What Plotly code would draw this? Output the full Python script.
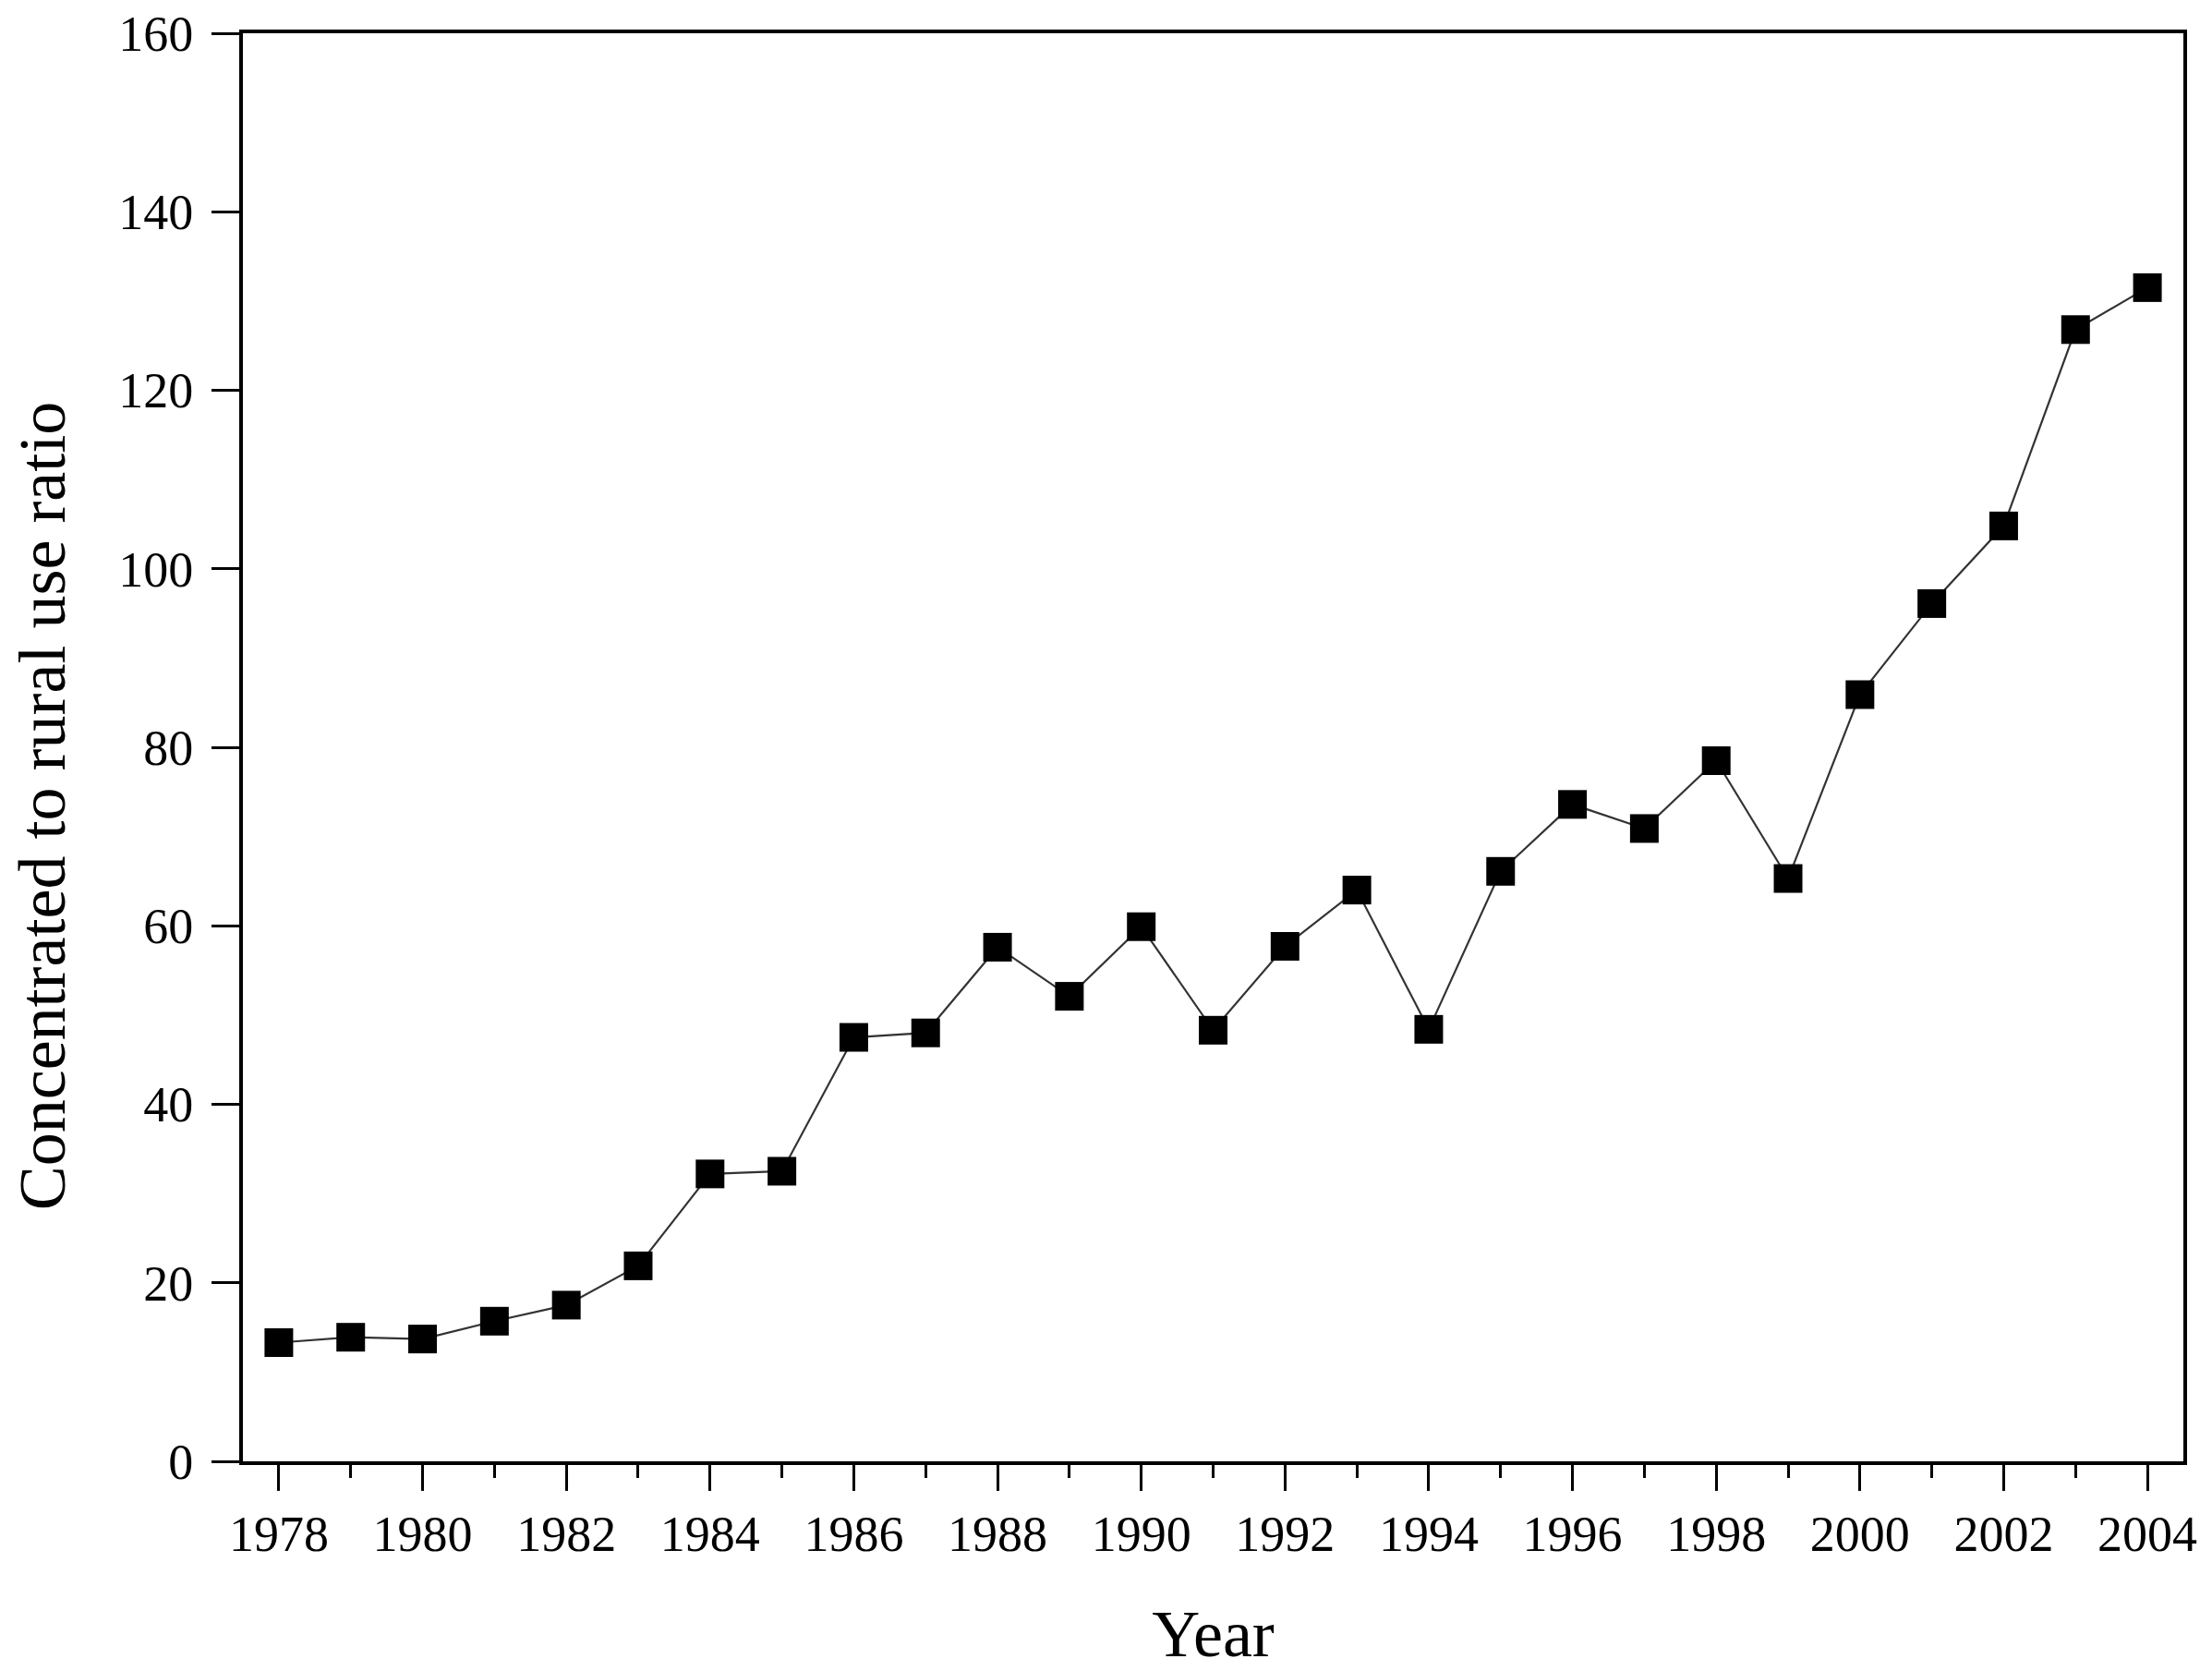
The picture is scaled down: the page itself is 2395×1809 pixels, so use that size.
import plotly.graph_objects as go

years = list(range(1978, 2005))
ratio = [13.3, 13.9, 13.7, 15.7, 17.5, 21.9, 32.2, 32.5, 47.5, 48.0,
         57.6, 52.1, 59.9, 48.3, 57.7, 64.0, 48.4, 66.1, 73.6, 70.9,
         78.5, 65.3, 85.9, 96.1, 104.8, 126.8, 131.5]

x_title = "Year"
y_title = "Concentrated to rural use ratio"

FONT = "Liberation Serif, Times New Roman, serif"

fig = go.Figure()
fig.add_trace(go.Scatter(
    x=years, y=ratio, mode="lines+markers",
    line=dict(color="#333333", width=2.2),
    marker=dict(symbol="square", size=31, color="black", line=dict(width=0)),
    showlegend=False,
))

fig.update_layout(
    width=2395, height=1809,
    margin=dict(l=263, r=31, t=36, b=227, autoexpand=False),
    paper_bgcolor="white", plot_bgcolor="white",
    font=dict(family=FONT, color="black", size=54),
    annotations=[dict(
        text=y_title, textangle=-90, xref="paper", yref="paper",
        x=-0.1033, y=0.459, xanchor="center", yanchor="middle",
        showarrow=False, font=dict(family=FONT, size=72, color="black"),
    )],
)

fig.update_xaxes(
    range=[1977.5, 2004.5], tick0=1978, dtick=2,
    ticks="outside", ticklen=28, tickwidth=3, tickcolor="black",
    minor=dict(dtick=1, tick0=1978, ticks="outside", ticklen=14, tickwidth=3, tickcolor="black"),
    showline=True, linecolor="black", linewidth=4, mirror=True,
    showgrid=False, zeroline=False,
    tickfont=dict(family=FONT, size=54, color="black"),
    title=dict(text=x_title, font=dict(family=FONT, size=72, color="black"), standoff=58),
)
fig.update_yaxes(
    range=[0, 160], tick0=0, dtick=20,
    ticks="outside", ticklen=30, tickwidth=3, tickcolor="black",
    ticklabelstandoff=9,
    showline=True, linecolor="black", linewidth=4, mirror=True,
    showgrid=False, zeroline=False,
    tickfont=dict(family=FONT, size=54, color="black"),
)

fig.write_html("out.html", config={"displayModeBar": False},
               post_script="document.body.style.margin='0';")
